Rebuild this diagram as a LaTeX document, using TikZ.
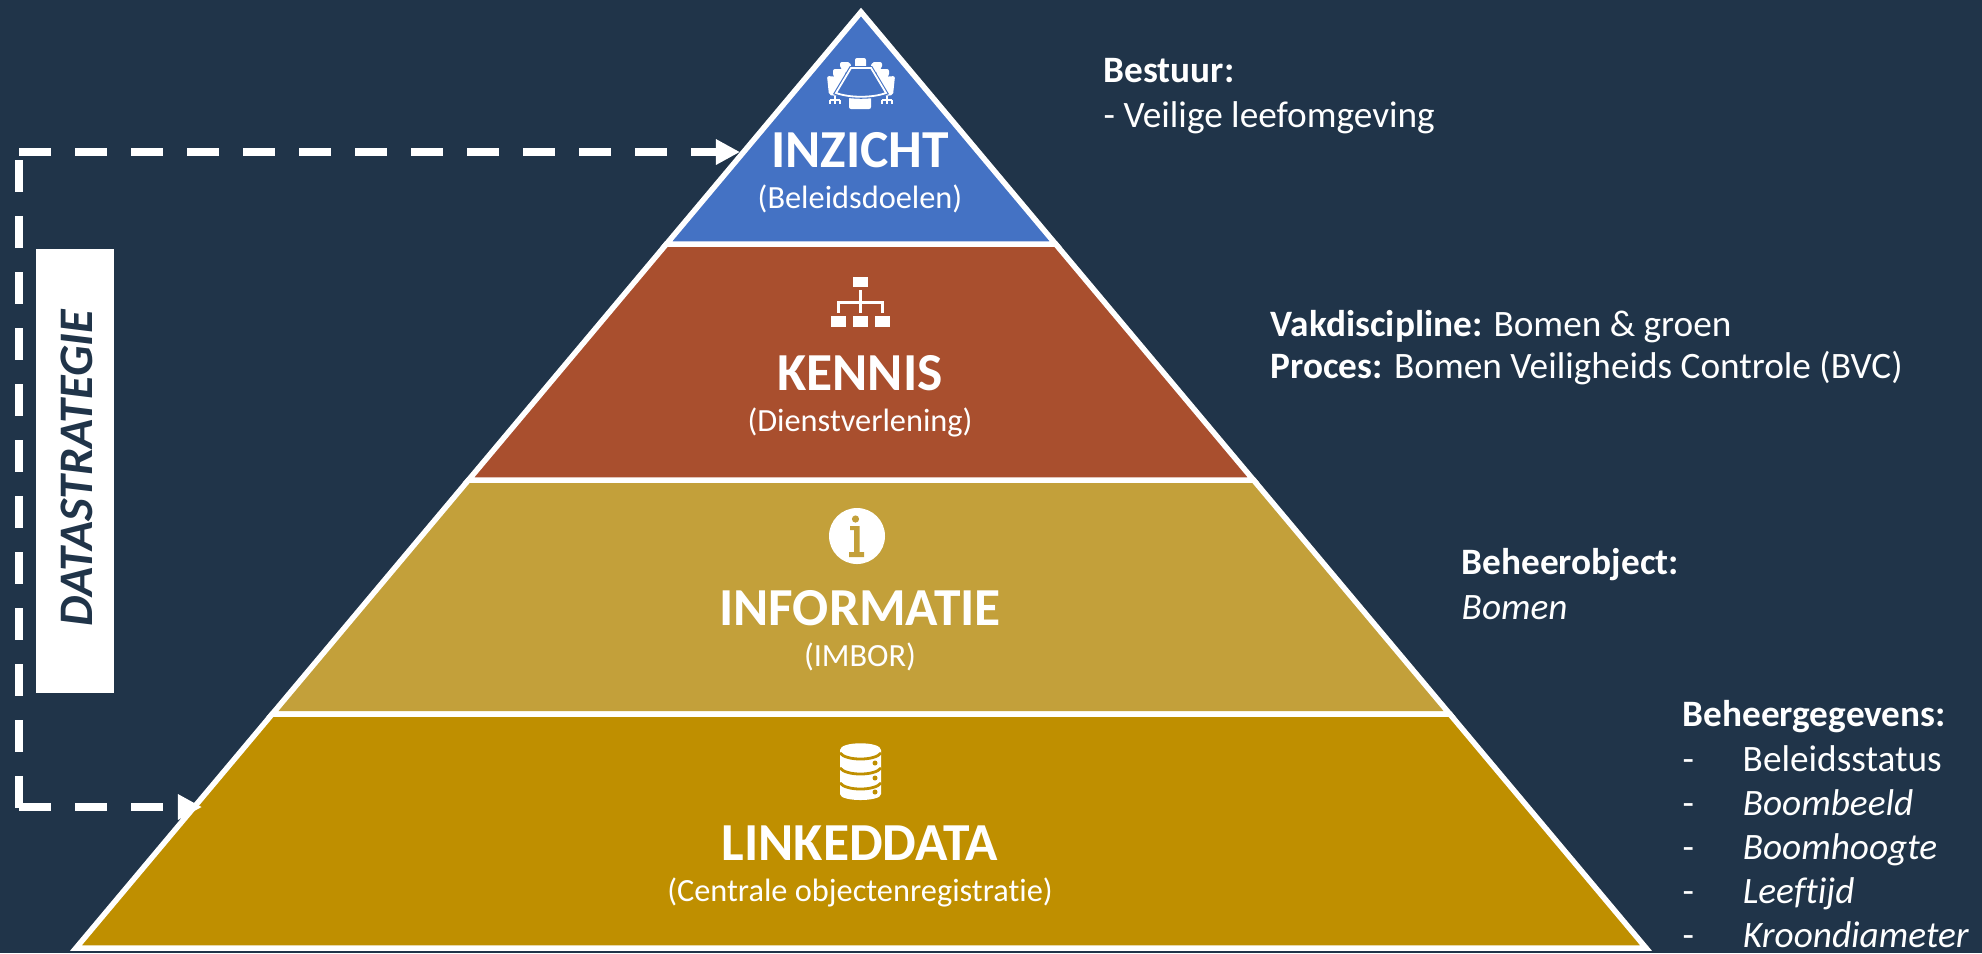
\documentclass[tikz,border=0pt]{standalone}
\usepackage{fontspec}
\setmainfont{Carlito}[Ligatures=NoCommon]
\usepackage{xcolor}
\usetikzlibrary{arrows.meta}
\definecolor{achtergrond}{HTML}{203449}
\definecolor{laagblauw}{HTML}{4472C4}
\definecolor{laagrood}{HTML}{A94F2E}
\definecolor{laagoker}{HTML}{C3A03A}
\definecolor{laaggoud}{HTML}{BF8F00}
\tikzset{
  laag/.style={draw=white,line width=0.055cm,line join=miter},
  laagtitel/.style={text=white,font=\fontsize{15.2}{17}\selectfont\bfseries},
  laagsub/.style={text=white,font=\fontsize{9.2}{11}\selectfont},
  infotekst/.style={text=white,anchor=north west,align=left,inner sep=0pt,font=\fontsize{10.6}{12.75}\selectfont},
  pijl/.style={draw=white,line width=0.085cm,dash pattern=on 0.32cm off 0.24cm},
  pijlkop/.style={-{Triangle[length=0.24cm,width=0.24cm]}}
}
\newcommand{\streep}[1]{\makebox[0.6cm][l]{-}#1}
\begin{document}
\begin{tikzpicture}[x=0.01cm,y=-0.01cm]
       \fill[achtergrond] (0,0) rectangle (1982,953);
       \useasboundingbox (0,0) rectangle (1982,953);
       \foreach \yt/\yb/\kleur in {480/714/laagoker,714/948/laaggoud,244/480/laagrood}
       {
         \draw[laag,fill=\kleur] ({861-0.8387*(\yt-12)},\yt) -- ({861+0.8387*(\yt-12)},\yt)
           -- ({861+0.8387*(\yb-12)},\yb) -- ({861-0.8387*(\yb-12)},\yb) -- cycle;
       }
       \draw[laag,fill=laagblauw] (861,12) -- ({861+0.8387*232},244) -- ({861-0.8387*232},244) -- cycle;
       \foreach \naam/\tekst/\sub/\yt in {inzicht/INZICHT/{(Beleidsdoelen)}/150,kennis/KENNIS/{(Dienstverlening)}/373,informatie/INFORMATIE/{(IMBOR)}/608,linkeddata/LINKEDDATA/{(Centrale objectenregistratie)}/843}
       {
         \node[laagtitel] (\naam) at (860,\yt) {\tekst};
         \node[laagsub] (\naam sub) at (860,\yt+49) {\sub};
       }
       % vergadertafel
       \fill[white,rounded corners=0.02cm] (855,58) rectangle (866,70);
       \fill[white,rounded corners=0.02cm] (849,92) rectangle (871,109);
       \foreach \s in {-1,1}
       {
         \begin{scope}[shift={(861,0)},xscale=\s]
           \fill[white,rounded corners=0.02cm] (11,62) -- (21,62) -- (21,68) -- (13,74) -- (9,70) -- cycle;
           \fill[white,rounded corners=0.02cm] (16,69) -- (28,69) -- (28,76) -- (21,84) -- (15,74) -- cycle;
           \fill[white,rounded corners=0.02cm] (21,77) -- (34,76) -- (32,95) -- (24,96) -- (18,88) -- cycle;
           \draw[white,line width=0.012cm] (26,96) -- (26,101) (21,100) -- (31,100) (21,100) -- (21,104) (26,100) -- (26,104) (31,100) -- (31,104);
         \end{scope}
       }
       \draw[laagblauw,line width=0.04cm,fill=laagblauw] (851,68) -- (871,68) -- (886,93) .. controls (872,98) and (850,98) .. (836,93) -- cycle;
       \draw[white,line width=0.018cm] (851,68) -- (871,68) -- (886,93) .. controls (872,98) and (850,98) .. (836,93) -- cycle;
       % organogram
       \fill[white] (853,277) rectangle (868,287);
       \fill[white] (831,316) rectangle (846,327);
       \fill[white] (853,316) rectangle (868,327);
       \fill[white] (875,316) rectangle (890,327);
       \fill[white] (859,290) rectangle (862,313);
       \fill[white] (837,301) rectangle (884,303.5);
       \fill[white] (837,301) rectangle (840,313);
       \fill[white] (881,301) rectangle (884,313);
       % info
       \fill[white] (857,536) circle (28);
       \fill[laagoker] (855.5,519) circle (3.6);
       \fill[laagoker] (850,526) -- (859.5,526) -- (859.5,552) -- (864,552) -- (864,557) -- (849,557) -- (849,552) -- (854,552) -- (854,530) -- (850,530) -- cycle;
       % database
       \fill[white] (840,750) -- (840,794) .. controls (840,802) and (881,802) .. (881,794) -- (881,750) .. controls (881,741) and (840,741) .. (840,750) -- cycle;
       \foreach \yl in {753,768,783}
       {
         \draw[laaggoud,line width=0.028cm] (840,\yl) .. controls (846,\yl+8) and (875,\yl+8) .. (881,\yl);
       }
       \foreach \yl in {763,778,792}
       {
         \fill[laaggoud] (875,\yl) circle (2.5);
       }
       % datastrategie
       \node[fill=white,minimum width=0.78cm,minimum height=4.44cm,inner sep=0pt] (vak) at (75,471) {};
       \node[rotate=90,text=achtergrond,font=\fontsize{13.7}{15}\selectfont\bfseries\itshape] (datastrategie) at (77,468) {DATASTRATEGIE};
       \coordinate (hoekboven) at (19,152);
       \coordinate (hoekonder) at (19,807);
       \coordinate (zijboven) at (19,160);
       \coordinate (zijonder) at (19,808);
       \coordinate (ingang) at (740,152);
       \coordinate (uitgang) at (202,807);
       \draw[pijl,pijlkop] (hoekboven) -- (ingang);
       \draw[pijl] (zijboven) -- (zijonder);
       \draw[pijl,pijlkop] (hoekonder) -- (uitgang);
       % teksten rechts
       \node[infotekst] (bestuur) at (1103,58) {\textbf{Bestuur:}\\- Veilige leefomgeving};
       \node[infotekst,font=\fontsize{10.6}{11.95}\selectfont] (vakdiscipline) at (1270,310) {\textbf{Vakdiscipline:} Bomen \& groen\\\textbf{Proces:} Bomen Veiligheids Controle (BVC)};
       \node[infotekst] (beheerobject) at (1461,548) {\textbf{Beheerobject:}\\\textit{Bomen}};
       \node[infotekst,font=\fontsize{10.6}{12.55}\selectfont] (beheergegevens) at (1682,700) {\textbf{Beheergegevens:}\\\streep{Beleidsstatus}\\\streep{\textit{Boombeeld}}\\\streep{\textit{Boomhoogte}}\\\streep{\textit{Leeftijd}}\\\streep{\textit{Kroondiameter}}};
     \end{tikzpicture}
\end{document}
